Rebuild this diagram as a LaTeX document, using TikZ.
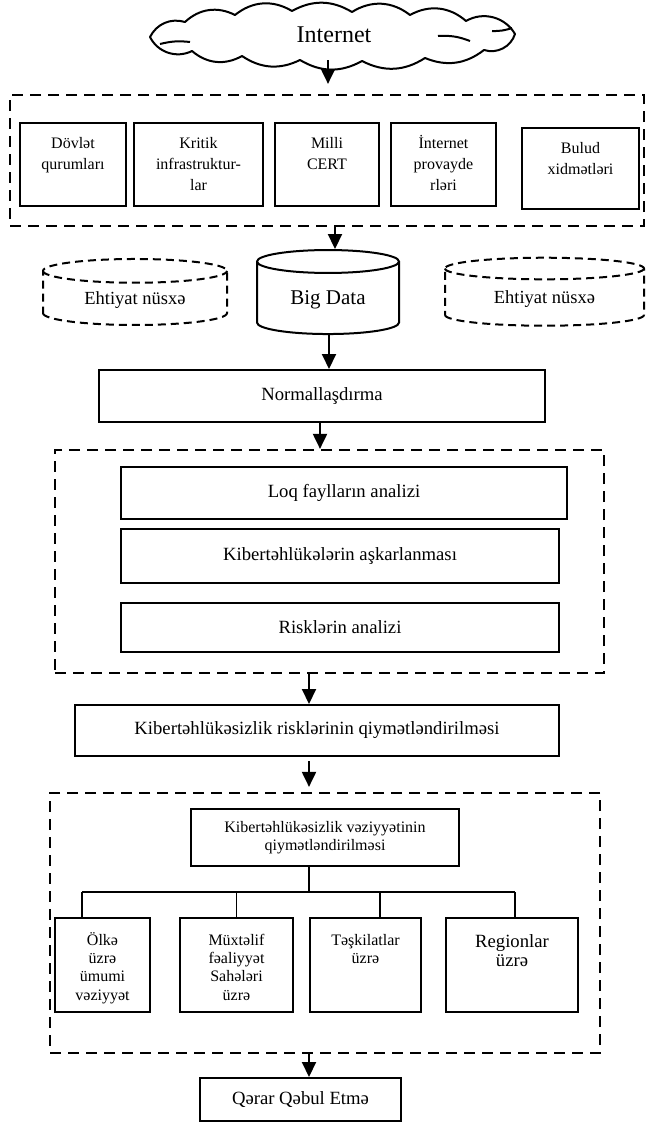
\documentclass[tikz,border=0pt]{standalone}
\usepackage{fontspec}
\setmainfont{Liberation Serif}
\usetikzlibrary{arrows.meta,positioning,calc,shapes.geometric}
\newcommand\fnt[2]{\fontsize{#1}{#2}\selectfont}
\newcommand\topcell[4]{\parbox[c][#1][t]{#2}{\centering\rule{0pt}{#3}#4}}
\tikzset{
  box/.style={draw,line width=2pt,inner sep=0pt},
  leaf/.style={draw,line width=1.6pt,inner sep=0pt,font=\fnt{16}{18.4}},
  group/.style={draw,line width=2.2pt,dash pattern=on 11pt off 7pt},
  store/.style={cylinder,draw,line width=2pt,shape border rotate=90},
  backup/.style={store,dash pattern=on 8pt off 5pt,font=\fnt{18.5}{20}},
  arr/.style={line width=2pt,-{Triangle[length=15pt,width=14pt]}},
  link/.style={line width=1.6pt},
}

\begin{document}
\begin{tikzpicture}[x=1pt,y=-1pt]
  \useasboundingbox (0,0) rectangle (647,1124);

  % source
  \draw[line width=2pt,line join=round] (150,37) to[bend left=40] (185,22) to[bend left=35] (235,15)
    to[bend left=35] (292,11) to[bend left=30] (352,12) to[bend left=35] (410,15)
    to[bend left=35] (466,21) to[bend left=45] (515,34) to[bend left=45] (484,50)
    to[bend left=30] (425,58) to[bend left=30] (362,61) to[bend left=30] (300,60)
    to[bend left=30] (242,56) to[bend left=35] (192,51) to[bend left=45] cycle;
  \draw[line width=2pt] (160,44) to[bend left=10] (190,42);
  \draw[line width=2pt] (438,36) to[bend left=12] (470,41);
  \draw[line width=2pt] (492,31) to[bend right=10] (512,28);
  \node[minimum width=360pt,minimum height=50pt,inner sep=0pt,font=\fnt{24}{26}] (cloud) at (334,35) {Internet};

  % data sources
  \node[group,minimum width=634pt,minimum height=131pt] (grp1) at (327,160.5) {};
  \node[box,font=\fnt{16}{21}] (dovlet) at (73,164.5) {\topcell{83pt}{106pt}{25pt}{Dövlət\\qurumları}};
  \node[box,font=\fnt{16}{21}] (kritik) at (198.5,164.5) {\topcell{83pt}{129pt}{25pt}{Kritik\\infrastruktur-\\lar}};
  \node[box,font=\fnt{16}{21}] (milli) at (327,164.5) {\topcell{83pt}{104pt}{25pt}{Milli\\CERT}};
  \node[box,font=\fnt{16}{21}] (isp) at (443.5,164.5) {\topcell{83pt}{105pt}{25pt}{İnternet\\provayde\\rləri}};
  \node[box,font=\fnt{16}{21}] (bulud) at (580.5,168.5) {\topcell{81pt}{117pt}{25pt}{Bulud\\xidmətləri}};

  % storage
  \node[store,aspect=0.28,minimum width=142pt,minimum height=84pt,font=\fnt{21}{24}] (bigdata) at (328,300) {Big Data};
  \node[backup,aspect=0.22,minimum width=184pt,minimum height=66pt] (bkleft) at (135,300) {Ehtiyat nüsxə};
  \node[backup,aspect=0.2,minimum width=199pt,minimum height=68pt] (bkright) at (544.5,299) {Ehtiyat nüsxə};

  \node[box,minimum width=446pt,minimum height=52pt,font=\fnt{18.67}{21}] (norm) at (322,396) {Normallaşdırma};

  % analysis
  \node[group,minimum width=549pt,minimum height=223pt] (grp2) at (329.5,561.5) {};
  \node[box,minimum width=446pt,minimum height=52pt,font=\fnt{18.67}{21}] (loq) at (344,493) {Loq faylların analizi};
  \node[box,minimum width=438pt,minimum height=54pt,font=\fnt{18.67}{21}] (detect) at (340,556) {Kibertəhlükələrin aşkarlanması};
  \node[box,minimum width=438pt,minimum height=49pt,font=\fnt{18.67}{21}] (riskan) at (340,627.5) {Risklərin analizi};

  \node[box,minimum width=484pt,minimum height=51pt,font=\fnt{18.67}{21}] (risk) at (317,730.5) {Kibertəhlükəsizlik risklərinin qiymətləndirilməsi};

  % assessment
  \node[group,minimum width=550pt,minimum height=260pt] (grp3) at (325,923) {};
  \node[box,line width=1.7pt,minimum width=268pt,minimum height=57pt,align=center,font=\fnt{16}{17.5}] (vez) at (325,837.5)
       {Kibertəhlükəsizlik vəziyyətinin\\qiymətləndirilməsi};
  \node[leaf] (olke) at (102.5,965) {\topcell{94pt}{95pt}{27pt}{Ölkə\\üzrə\\ümumi\\vəziyyət}};
  \node[leaf] (muxt) at (236.5,965) {\topcell{94pt}{113pt}{27pt}{Müxtəlif\\fəaliyyət\\Sahələri\\üzrə}};
  \node[leaf] (teskil) at (365.5,965) {\topcell{94pt}{111pt}{27pt}{Təşkilatlar\\üzrə}};
  \node[leaf,font=\fnt{18.67}{19.5}] (region) at (512,965) {\topcell{94pt}{132pt}{29pt}{Regionlar\\üzrə}};

  \node[box,minimum width=201pt,minimum height=43pt,font=\fnt{18.67}{21}] (qerar) at (300.5,1099.5) {Qərar Qəbul Etmə};

  % flow
  \draw[arr,shorten >=10pt] ([xshift=-6pt]cloud.south) -- ([xshift=1pt]grp1.north);
  \draw[arr] ([xshift=8pt]grp1.south) -- ([xshift=7pt]bigdata.north);
  \draw[arr] ([xshift=1pt]bigdata.south) -- ([xshift=7pt]norm.north);
  \draw[arr] ([xshift=-2pt]norm.south) -- ([xshift=-9.5pt]grp2.north);
  \draw[arr] ([xshift=-20.5pt]grp2.south) -- ([xshift=-8pt]risk.north);
  \draw[arr,shorten <=4pt,shorten >=5pt] ([xshift=-8pt]risk.south) -- ([xshift=-16pt]grp3.north);
  \draw[arr] ([xshift=-16pt]grp3.south) -- ([xshift=8.5pt]qerar.north);

  % tree
  \draw[link] ([xshift=-16pt]vez.south) -- ++(0,26);
  \draw[link] ([xshift=-20.5pt,yshift=25pt]olke.north) -- ([xshift=3pt,yshift=25pt]region.north);
  \foreach \n/\dx in {olke/-20.5,muxt/0,teskil/14.5,region/3}
    \draw[link] ([xshift=\dx pt]\n.north) -- ++(0,-25);
\end{tikzpicture}
\end{document}
